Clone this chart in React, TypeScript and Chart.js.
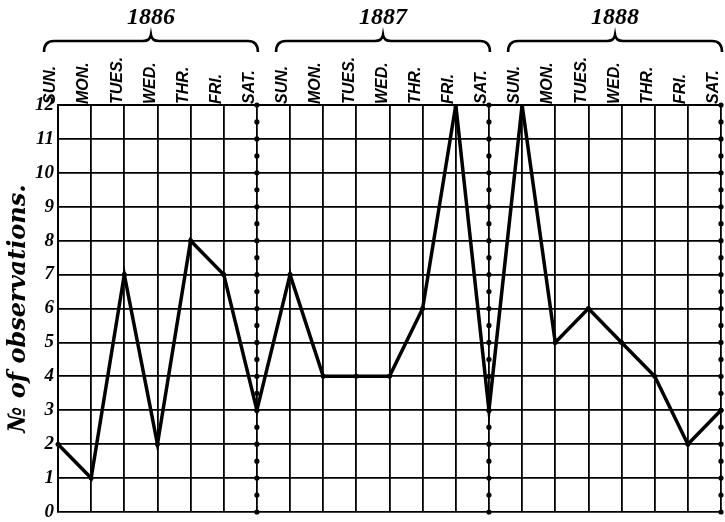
import React, { useEffect, useRef } from "react";
import { Chart, registerables } from "chart.js";

Chart.register(...registerables);

const days = ["SUN.", "MON.", "TUES.", "WED.", "THR.", "FRI.", "SAT."];
const years = ["1886", "1887", "1888"];
const categories = [...days, ...days, ...days];
const values1886 = [2, 1, 7, 2, 8, 7, 3];
const values1887 = [7, 4, 4, 4, 6, 12, 3];
const values1888 = [12, 5, 6, 5, 4, 2, 3];
const observations = [...values1886, ...values1887, ...values1888];
const yMin = 0;
const yMax = 12;
const yTitle = "№ of observations.";

const yearPlugin = {
  id: "yearBraces",
  afterDraw(chart: any) {
    const ctx = chart.ctx;
    const xs = chart.scales.x;
    const ys = chart.scales.y;
    ctx.save();
    years.forEach((yr, i) => {
      const sun = xs.getPixelForValue(i * 7);
      const sat = xs.getPixelForValue(i * 7 + 6);
      // beaded separator line on the Saturday column
      ctx.fillStyle = "#000";
      for (let v = yMin; v <= yMax; v += 0.5) {
        ctx.beginPath();
        ctx.arc(sat, ys.getPixelForValue(v), 2.6, 0, Math.PI * 2);
        ctx.fill();
      }
      // brace
      const L = sun - 14;
      const R = sat + 1;
      const C = (L + R) / 2;
      const top = 41;
      const bot = 52;
      ctx.strokeStyle = "#000";
      ctx.lineWidth = 2.6;
      ctx.beginPath();
      ctx.moveTo(L, bot);
      ctx.quadraticCurveTo(L, top, L + 10, top);
      ctx.lineTo(C - 8, top);
      ctx.quadraticCurveTo(C - 1, top, C, top - 6);
      ctx.quadraticCurveTo(C + 1, top, C + 8, top);
      ctx.lineTo(R - 10, top);
      ctx.quadraticCurveTo(R, top, R, bot);
      ctx.stroke();
      // year label
      ctx.font = "italic bold 24px 'Liberation Serif'";
      ctx.textAlign = "center";
      ctx.textBaseline = "middle";
      ctx.fillText(yr, C, 18);
    });
    ctx.restore();
  },
};

export default function App() {
  const ref = useRef<HTMLCanvasElement | null>(null);
  useEffect(() => {
    if (!ref.current) return;
    const chart = new Chart(ref.current, {
      type: "line",
      data: {
        labels: categories,
        datasets: [
          {
            data: observations,
            borderColor: "#000",
            backgroundColor: "#000",
            borderWidth: 3.5,
            tension: 0,
            pointRadius: 2.5,
            pointBackgroundColor: "#000",
            pointBorderWidth: 0,
          },
        ],
      },
      options: {
        responsive: false,
        animation: false,
        layout: { padding: { left: 0, right: 3, top: 0, bottom: 10 } },
        plugins: { legend: { display: false }, tooltip: { enabled: false } },
        scales: {
          x: {
            position: "top",
            offset: false,
            grid: { color: "#000", lineWidth: 1.8, drawTicks: false },
            border: { color: "#000", width: 2 },
            ticks: {
              autoSkip: false,
              minRotation: 90,
              maxRotation: 90,
              padding: 1,
              labelOffset: 12,
              color: "#000",
              font: { family: "'Liberation Sans'", size: 16, style: "italic", weight: "bold" },
            },
            afterFit: (s: any) => {
              s.height = 105;
              s.paddingLeft = 0;
              s.paddingRight = 0;
            },
          },
          y: {
            min: yMin,
            max: yMax,
            grid: { color: "#000", lineWidth: 1.8, drawTicks: false },
            border: { color: "#000", width: 2 },
            ticks: {
              stepSize: 1,
              padding: 4,
              color: "#000",
              font: { family: "'Liberation Serif'", size: 19, style: "italic", weight: "bold" },
            },
            title: {
              display: true,
              text: yTitle,
              color: "#000",
              padding: { top: 4, bottom: 0 },
              font: { family: "'DejaVu Serif'", size: 24, style: "italic", weight: "bold" },
            },
            afterFit: (s: any) => {
              s.width = 58;
              s.paddingTop = 0;
              s.paddingBottom = 0;
            },
          },
        },
      },
      plugins: [yearPlugin],
    });
    return () => chart.destroy();
  }, []);
  return (
    <div style={{ position: "absolute", left: 0, top: 0, width: 725, height: 522, background: "#fff" }}>
      <canvas ref={ref} width={725} height={522} />
    </div>
  );
}
